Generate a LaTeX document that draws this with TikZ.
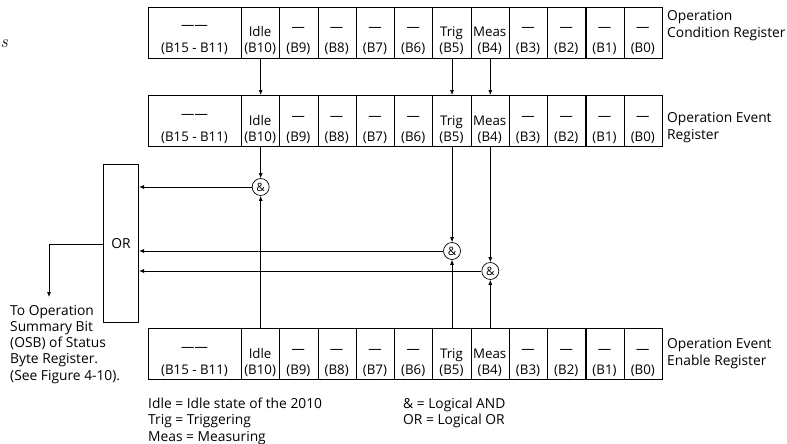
\documentclass[tikz,border=0pt]{standalone}
\usepackage{fontspec}
\setmainfont{Open Sans}
\newfontfamily\headfont{Latin Modern Roman}
\usetikzlibrary{arrows.meta,positioning,calc}

\tikzset{
  bitcell/.style={draw, line width=1.1pt, minimum height=51pt, inner sep=0pt, anchor=north west},
  bitname/.style={anchor=base, inner sep=0pt},
  wire/.style={line width=0.7pt},
  sig/.style={wire, -{Latex[length=5pt, width=4pt]}},
  andgate/.style={circle, draw, wire, minimum size=17pt, inner sep=0pt, font=\fontsize{11.5}{12}\selectfont},
  regname/.style={anchor=north west, align=left, inner sep=0pt, font=\fontsize{13.8}{17.5}\selectfont},
  notetext/.style={anchor=north west, align=left, inner sep=0pt, font=\fontsize{13.8}{16.2}\selectfont}
}

\begin{document}
\begin{tikzpicture}[x=1pt, y=-1pt, font=\fontsize{13.3}{15}\selectfont]
  \useasboundingbox (0,0) rectangle (787,444);
  \node[anchor=base west, inner sep=0pt, font=\fontsize{18}{20}\headfont\itshape] (cut) at (0.5,48) {s};

  % the three 16-bit registers
  \foreach \reg/\top in {cond/7, evnt/95, enbl/328}{
    \node[bitcell, minimum width=93pt] (\reg-hi) at (148,\top) {};
    \node[bitname] at (194.5,\top+23) {\textemdash\textemdash};
    \node[bitname] at (194.5,\top+46) {(B15 - B11)};
    \foreach \i/\bit/\txt/\dy in {0/10/Idle/30, 1/9/\textemdash/25, 2/8/\textemdash/25,
        3/7/\textemdash/25, 4/6/\textemdash/25, 5/5/Trig/30, 6/4/Meas/30, 7/3/\textemdash/25,
        8/2/\textemdash/25, 9/1/\textemdash/25, 10/0/\textemdash/25}{
      \node[bitcell, minimum width=38.27pt] (\reg-b\bit) at (241+\i*38.27,\top) {};
      \node[bitname] at (260.1+\i*38.27,\top+\dy) {\txt};
      \node[bitname] at (260.1+\i*38.27,\top+46) {(B\bit)};
    }
  }
  \node[regname] (condname) at (667,10) {Operation\\Condition Register};
  \node[regname] (evntname) at (667,112) {Operation Event\\Register};
  \node[regname] (enblname) at (667,338) {Operation Event\\Enable Register};

  % summary logic
  \node[draw, line width=1.1pt, minimum width=35pt, minimum height=158pt, inner sep=0pt,
        anchor=north west, font=\fontsize{13.8}{15}\selectfont] (orgate) at (103,164) {OR};
  \foreach \bit/\gy in {10/187, 5/251, 4/271}{
    \node[andgate] (and-b\bit) at (evnt-b\bit.center |- 0,\gy) {\&};
    \draw[sig] (cond-b\bit) -- (evnt-b\bit);
    \draw[sig] (evnt-b\bit) -- (and-b\bit);
    \draw[sig] (enbl-b\bit) -- (and-b\bit);
    \draw[sig] (and-b\bit) -- (and-b\bit -| orgate.east);
  }
  \coordinate (osb) at (49,297);
  \draw[sig] (orgate.west |- 0,244) -| (osb);
  \node[notetext] (osbnote) at (10,305) {To Operation\\Summary Bit\\(OSB) of Status\\Byte Register.\\(See Figure 4-10).};

  % legend
  \node[notetext] (legleft) at (148,398) {Idle = Idle state of the 2010\\Trig = Triggering\\Meas = Measuring};
  \node[notetext] (legright) at (403,398) {\& = Logical AND\\OR = Logical OR};
\end{tikzpicture}
\end{document}
